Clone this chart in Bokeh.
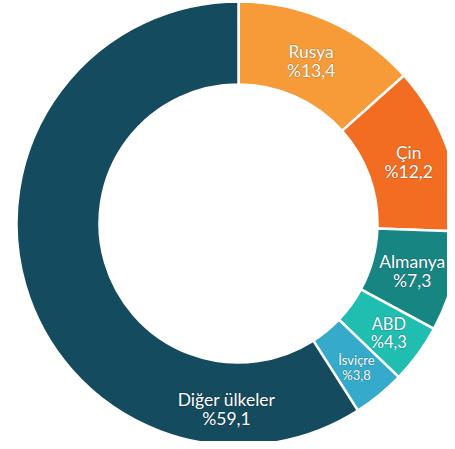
import math
from bokeh.plotting import figure
from bokeh.models import ColumnDataSource, Range1d
from bokeh.core.properties import value
from bokeh.embed import file_html
from bokeh.resources import INLINE

countries = ["Rusya", "Çin", "Almanya", "ABD", "İsviçre", "Diğer ülkeler"]
shares = [13.4, 12.2, 7.3, 4.3, 3.8, 59.1]
share_labels = ["%13,4", "%12,2", "%7,3", "%4,3", "%3,8", "%59,1"]
colors = ["#F69B38", "#F26D22", "#178683", "#20BDB1", "#35AACB", "#154B5E"]
font_sizes = ["17.5px", "17.5px", "17.5px", "16.5px", "13px", "17.5px"]

R_OUT = 222
R_IN = 139
R_LBL = [178, 181, 180, 186, 186, 186]

total = sum(shares)
starts, ends, lx, ly = [], [], [], []
cum = 0.0
for i, s in enumerate(shares):
    a0 = math.pi / 2 - 2 * math.pi * cum / total
    a1 = math.pi / 2 - 2 * math.pi * (cum + s) / total
    starts.append(a0)
    ends.append(a1)
    mid = (a0 + a1) / 2
    if i == len(shares) - 1:
        mid = math.pi / 2 - math.radians(183.7)
    lx.append(R_LBL[i] * math.cos(mid))
    ly.append(R_LBL[i] * math.sin(mid))
    cum += s

texts = [f"{c}\n{l}" for c, l in zip(countries, share_labels)]
src = ColumnDataSource(dict(start=starts, end=ends, color=colors,
                            x=[0] * len(shares), y=[0] * len(shares),
                            lx=lx, ly=ly, text=texts, fs=font_sizes))

W, H = 447, 441
CX, CY = 238, 223
p = figure(width=W, height=H, output_backend="svg", toolbar_location=None,
           x_range=Range1d(-CX, W - CX), y_range=Range1d(-(H - CY), CY),
           min_border=0)
p.axis.visible = False
p.grid.visible = False
p.outline_line_color = None
p.background_fill_color = "white"

p.annular_wedge(x="x", y="y", inner_radius=R_IN, outer_radius=R_OUT,
                start_angle="start", end_angle="end", direction="clock",
                fill_color="color", line_color="white", line_width=2.5,
                source=src)

# soft dark glow behind labels
for dx, dy in [(-1, 0), (1, 0), (0, -1), (0, 1)]:
    p.text(x="lx", y="ly", text="text", source=src, x_offset=dx, y_offset=dy,
           text_align="center", text_baseline="middle", text_color="#000000",
           text_alpha=0.12, text_font=value("Lato"), text_font_size="fs",
           text_line_height=0.92)

p.text(x="lx", y="ly", text="text", source=src,
       text_align="center", text_baseline="middle", text_color="white",
       text_font=value("Lato"), text_font_size="fs", text_line_height=0.92)

open("out.html", "w").write(file_html(p, INLINE))
